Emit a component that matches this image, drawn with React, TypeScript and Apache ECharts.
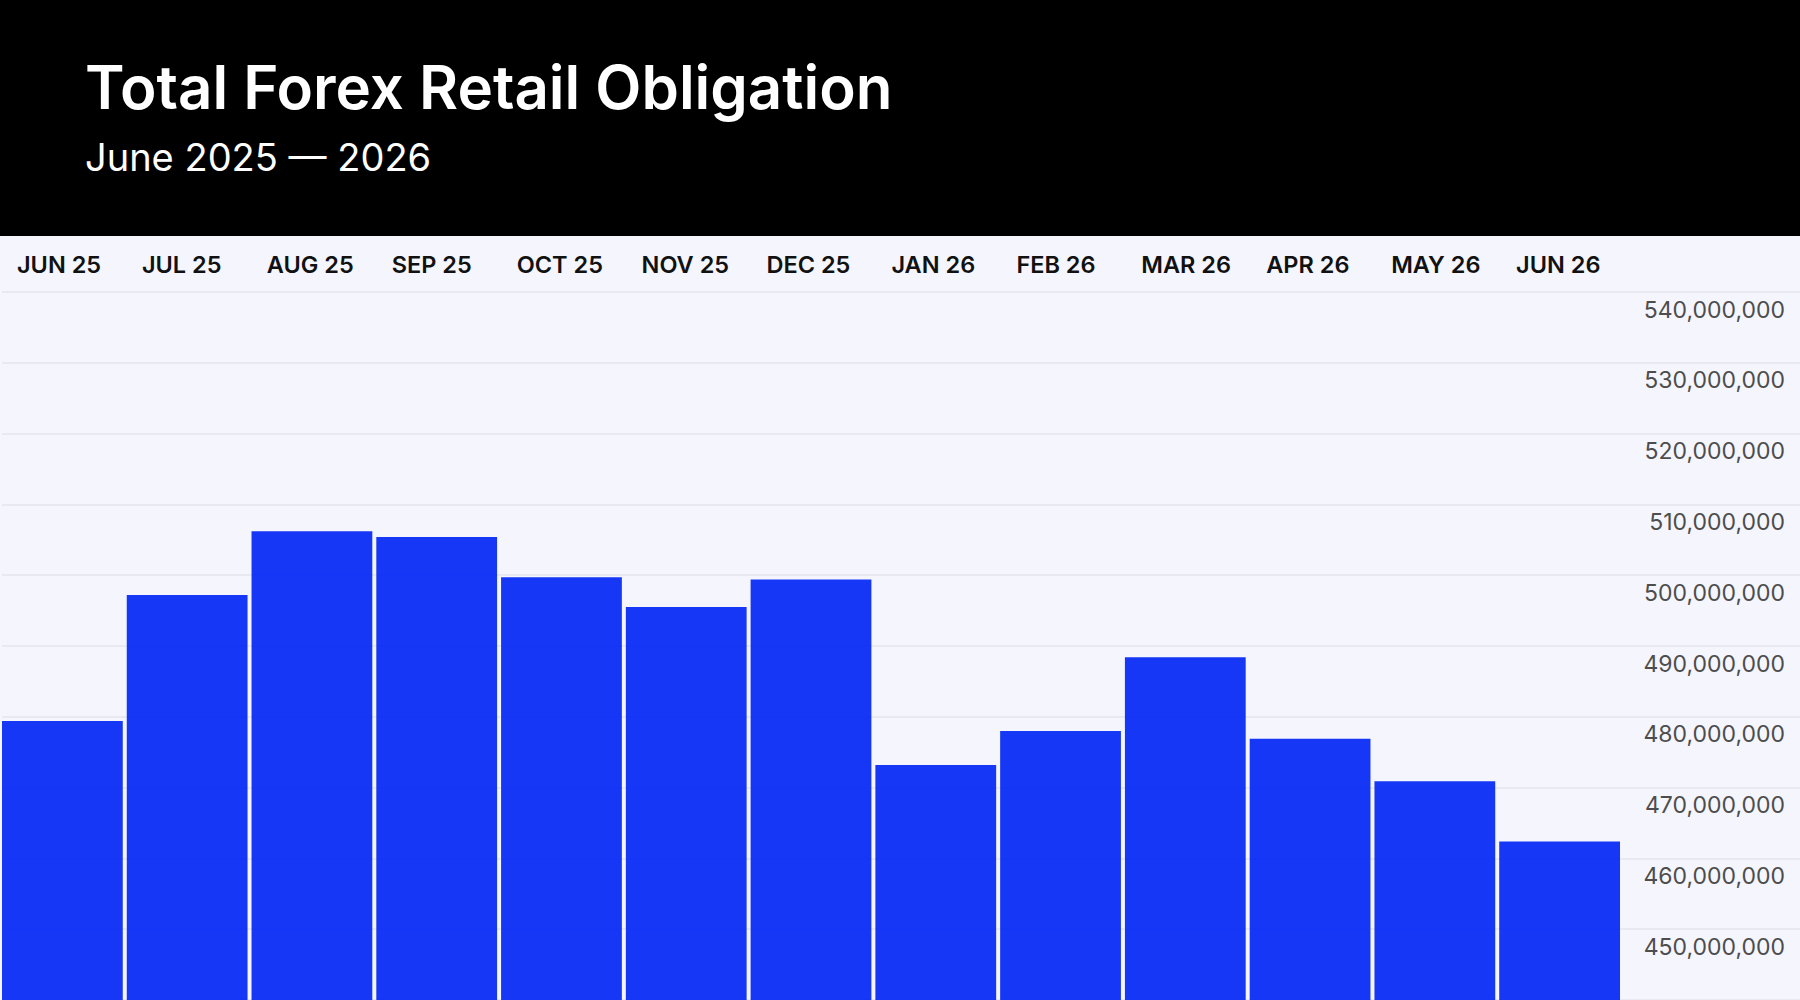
import React, { useEffect, useRef } from "react";
import * as echarts from "echarts";

const TITLE = "Total Forex Retail Obligation";
const SUBTITLE = "June 2025 — 2026";

const categories: string[] = [
  "JUN 25", "JUL 25", "AUG 25", "SEP 25", "OCT 25", "NOV 25", "DEC 25",
  "JAN 26", "FEB 26", "MAR 26", "APR 26", "MAY 26", "JUN 26",
];

const obligation: number[] = [
  479400000, 497200000, 506200000, 505400000, 499700000, 495500000, 499400000,
  473200000, 478000000, 488400000, 476900000, 470900000, 462400000,
];

const yMin = 440000000;
const yMax = 540000000;
const yInterval = 10000000;

export default function App() {
  const ref = useRef<HTMLDivElement>(null);

  useEffect(() => {
    document.body.style.margin = "0";
    if (!ref.current) return;
    const chart = echarts.init(ref.current, undefined, { renderer: "svg" });
    const font = "Inter, 'Noto Sans', sans-serif";
    const barLeft = -2;
    const barWidth = 1624;
    const catW = barWidth / categories.length;
    const labelLeft = 17;
    const labelWidth = catW * (categories.length - 1);
    chart.setOption({
      animation: false,
      backgroundColor: "#f5f6fd",
      textStyle: { fontFamily: font },
      graphic: [
        {
          type: "rect",
          shape: { x: 0, y: 0, width: 1800, height: 236 },
          style: { fill: "#000000" },
          z: 0,
        },
        {
          type: "text",
          x: 85,
          y: 87,
          style: {
            text: TITLE,
            fill: "#ffffff",
            fontSize: 60,
            fontWeight: 600,
            fontFamily: font,
            align: "left",
            verticalAlign: "middle",
          },
          z: 1,
        },
        {
          type: "text",
          x: 85,
          y: 157,
          style: {
            text: SUBTITLE,
            fill: "#ffffff",
            fontSize: 38,
            fontWeight: 400,
            fontFamily: font,
            align: "left",
            verticalAlign: "middle",
          },
          z: 1,
        },
      ],
      grid: [
        { left: 2, right: 0, top: 292, bottom: 0, containLabel: false },
        { left: barLeft, width: barWidth, top: 292, bottom: 0, containLabel: false },
        { left: labelLeft, width: labelWidth, top: 292, bottom: 0, containLabel: false },
      ],
      xAxis: [
        { type: "value", gridIndex: 0, show: false, min: 0, max: 1 },
        {
          type: "category",
          gridIndex: 1,
          data: categories,
          show: false,
        },
        {
          type: "category",
          gridIndex: 2,
          position: "top",
          boundaryGap: false,
          data: categories,
          axisLine: { show: false },
          axisTick: { show: false },
          splitLine: { show: false },
          axisLabel: {
            color: "#111111",
            fontSize: 23.5,
            fontWeight: 600,
            fontFamily: font,
            margin: 16,
            interval: 0,
            align: "left",
          },
        },
      ],
      yAxis: [
        {
          type: "value",
          gridIndex: 0,
          position: "right",
          min: yMin,
          max: yMax,
          interval: yInterval,
          axisLine: { show: false },
          axisTick: { show: false },
          splitLine: { show: true, lineStyle: { color: "#e8e9f1", width: 2 } },
          axisLabel: {
            inside: true,
            showMinLabel: false,
            margin: 15,
            color: "#4d4d4d",
            fontSize: 23,
            fontFamily: font,
            verticalAlign: "top",
            lineHeight: 23,
            padding: [6, 0, 0, 0],
            formatter: (v: number) => v.toLocaleString("en-US"),
          },
          z: 0,
        },
        {
          type: "value",
          gridIndex: 1,
          min: yMin,
          max: yMax,
          interval: yInterval,
          show: false,
          splitLine: { show: false },
        },
        {
          type: "value",
          gridIndex: 2,
          min: yMin,
          max: yMax,
          interval: yInterval,
          show: false,
          splitLine: { show: false },
        },
      ],
      series: [
        {
          type: "bar",
          xAxisIndex: 1,
          yAxisIndex: 1,
          data: obligation,
          barCategoryGap: "3.2%",
          itemStyle: {
            color: "#0a2cf5",
            opacity: 0.95,
          },
          z: 2,
        },
      ],
    });
    return () => chart.dispose();
  }, []);

  return <div ref={ref} style={{ width: 1800, height: 1000 }} />;
}
